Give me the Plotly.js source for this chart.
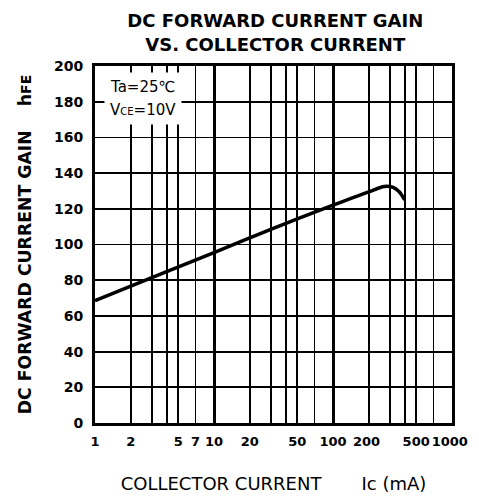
<!DOCTYPE html>
<html>
<head>
<meta charset="utf-8">
<script src="https://cdn.plot.ly/plotly-3.0.1.min.js"></script>
<style>html,body{margin:0;padding:0;background:#fff;}#chart{width:479px;height:497px;}</style>
</head>
<body>
<div id="chart"></div>
<script>
// Data
const collectorCurrent_mA = [1, 3, 10, 30, 100, 200, 270, 320, 360, 400];
const hFE = [68.5, 81.5, 95.5, 108.5, 122, 129.5, 132.5, 132, 129.5, 125];

const xTickVals = [1, 2, 5, 7, 10, 20, 50, 100, 200, 500, 1000];
const xTickText = ["1", "2", "5", "7", "10", "20", "50", "100", "200&nbsp;", "500", "1000&nbsp;"];
const xMinorGrid = [3, 4, 30, 40, 70, 300, 400, 700];
const xDecadeGrid = [10, 100];
const yTickVals = [0, 20, 40, 60, 80, 100, 120, 140, 160, 180, 200];

const FONT = "DejaVu Sans, Verdana, sans-serif";

const gridTrace = {
  x: [1, 1000], y: [0, 0], type: "scatter", mode: "lines",
  line: {color: "rgba(0,0,0,0)", width: 0},
  xaxis: "x2", yaxis: "y", hoverinfo: "skip", showlegend: false
};

const curve = {
  x: collectorCurrent_mA,
  y: hFE,
  type: "scatter",
  mode: "lines",
  line: {color: "#000", width: 3.5, shape: "spline", smoothing: 0.9},
  xaxis: "x",
  yaxis: "y",
  hoverinfo: "skip",
  showlegend: false
};

const layout = {
  width: 479,
  height: 497,
  margin: {l: 95, r: 27, t: 66, b: 74},
  paper_bgcolor: "#fff",
  plot_bgcolor: "#fff",
  showlegend: false,
  title: {
    text: "<b>DC FORWARD CURRENT GAIN<br>VS. COLLECTOR CURRENT</b>",
    font: {family: FONT, size: 18, color: "#000"},
    x: 0.505, xref: "paper", xanchor: "center",
    y: 0.945, yref: "container", yanchor: "top"
  },
  xaxis: {
    type: "log",
    range: [0, 3],
    tickmode: "array",
    tickvals: xTickVals,
    ticktext: xTickText,
    tickangle: 0,
    tickfont: {family: FONT, size: 13, color: "#000", weight: "bold"},
    ticks: "outside", ticklen: 4, tickcolor: "rgba(0,0,0,0)",
    showgrid: true, gridcolor: "#000", gridwidth: 1.8,
    minor: {tickmode: "array", tickvals: xMinorGrid, showgrid: true, gridcolor: "#000", gridwidth: 1.8, ticks: ""},
    showline: true, linecolor: "#000", linewidth: 3, mirror: true,
    zeroline: false,
    title: {
      text: "COLLECTOR CURRENT&nbsp;&nbsp;&nbsp;&nbsp;&nbsp;&nbsp;&nbsp;Ic (mA)",
      font: {family: FONT, size: 18, color: "#000"},
      standoff: 30
    }
  },
  xaxis2: {
    type: "log",
    range: [0, 3],
    overlaying: "x",
    tickmode: "array",
    tickvals: xDecadeGrid,
    showticklabels: false,
    ticks: "",
    showgrid: true, gridcolor: "#000", gridwidth: 3,
    showline: false, zeroline: false
  },
  yaxis: {
    range: [0, 200],
    tickmode: "array",
    tickvals: yTickVals,
    tickfont: {family: FONT, size: 14, color: "#000", weight: "bold"},
    ticks: "outside", ticklen: 6, tickcolor: "rgba(0,0,0,0)",
    showgrid: true, gridcolor: "#000", gridwidth: 1.8,
    showline: true, linecolor: "#000", linewidth: 3, mirror: true,
    zeroline: false,
    title: {
      text: "<b>DC FORWARD CURRENT GAIN&nbsp;&nbsp;&nbsp;&nbsp;h<span style='font-size:14px'>FE</span></b>",
      font: {family: FONT, size: 17.3, color: "#000"},
      standoff: 18
    }
  },
  annotations: [
    {
      xref: "paper", yref: "paper",
      x: 0.026, y: 0.941, xanchor: "left", yanchor: "middle",
      text: "Ta=25℃",
      showarrow: false,
      align: "left",
      font: {family: FONT, size: 15, color: "#000"},
      bgcolor: "#fff",
      borderpad: 5
    },
    {
      xref: "paper", yref: "paper",
      x: 0.026, y: 0.877, xanchor: "left", yanchor: "middle",
      text: "V<span style='font-size:10px'>CE</span>=10V",
      showarrow: false,
      align: "left",
      font: {family: FONT, size: 15, color: "#000"},
      bgcolor: "#fff",
      borderpad: 5
    }
  ]
};

Plotly.newPlot("chart", [gridTrace, curve], layout, {staticPlot: true, displayModeBar: false});
</script>
</body>
</html>
